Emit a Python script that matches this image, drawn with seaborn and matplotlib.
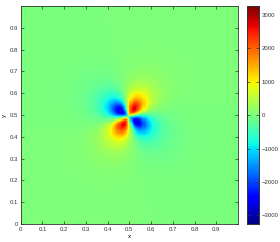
import numpy as np
import pandas as pd
import matplotlib
matplotlib.use("Agg")
import matplotlib.pyplot as plt
import seaborn as sns

# Grid and ticks
n_grid = 200
x_ticks = [0, 0.1, 0.2, 0.3, 0.4, 0.5, 0.6, 0.7, 0.8, 0.9]
y_ticks = [0, 0.1, 0.2, 0.3, 0.4, 0.5, 0.6, 0.7, 0.8, 0.9]
cbar_ticks = [-3000, -2000, -1000, 0, 1000, 2000, 3000]
c_limits = (-3260, 3260)

# Quadrupole field parameters
peak_value = 2700
center_x, center_y = 0.497, 0.494
lobe_scale = 0.05
lobe_rotation = 0.2     # radians, counter-clockwise

coords = np.arange(n_grid) / n_grid
X, Y = np.meshgrid(coords + 0.5 / n_grid, coords + 0.5 / n_grid)
dx, dy = X - center_x, Y - center_y
theta = np.arctan2(dy, dx) - lobe_rotation
rho = np.hypot(dx, dy) / lobe_scale
profile = rho / (1 + rho**2 / 3) ** 2.5
field = peak_value * profile / profile.max() * np.sin(2 * theta)
field[np.abs(field) < 1] = 0.0

df = pd.DataFrame(field, index=coords, columns=coords)

plt.rcParams['font.family'] = ['Liberation Sans', 'DejaVu Sans']
fig = plt.figure(figsize=(2.8, 2.42), dpi=100)
ax = fig.add_axes([0.074, 0.074, 0.776, 0.901])
cax = fig.add_axes([0.882, 0.074, 0.043, 0.901])

sns.heatmap(df, ax=ax, cbar_ax=cax, cmap='jet', vmin=c_limits[0], vmax=c_limits[1],
            xticklabels=False, yticklabels=False, rasterized=True)
ax.invert_yaxis()
ax.set_xlim(0, n_grid)
ax.set_ylim(0, n_grid)

ax.set_xticks([v * n_grid for v in x_ticks])
ax.set_xticklabels([f"{v:g}" for v in x_ticks])
ax.set_yticks([v * n_grid for v in y_ticks])
ax.set_yticklabels([f"{v:g}" for v in y_ticks])
ax.tick_params(direction='in', length=2, width=0.5, labelsize=4.3, colors='#333333',
               top=True, right=True, pad=2)
for s in ax.spines.values():
    s.set_visible(True)
    s.set_linewidth(0.6)
    s.set_color('#333333')
ax.set_xlabel('x', fontsize=4.5, labelpad=1.5)
ax.set_ylabel('y', fontsize=4.5, labelpad=1.5)

cax.set_yticks(cbar_ticks)
cax.tick_params(direction='in', length=2, width=0.5, labelsize=4.3, colors='#333333',
                left=True, right=True, pad=2)
for s in cax.spines.values():
    s.set_visible(True)
    s.set_linewidth(0.6)
    s.set_color('#333333')

fig.savefig('out.png', dpi=100)
